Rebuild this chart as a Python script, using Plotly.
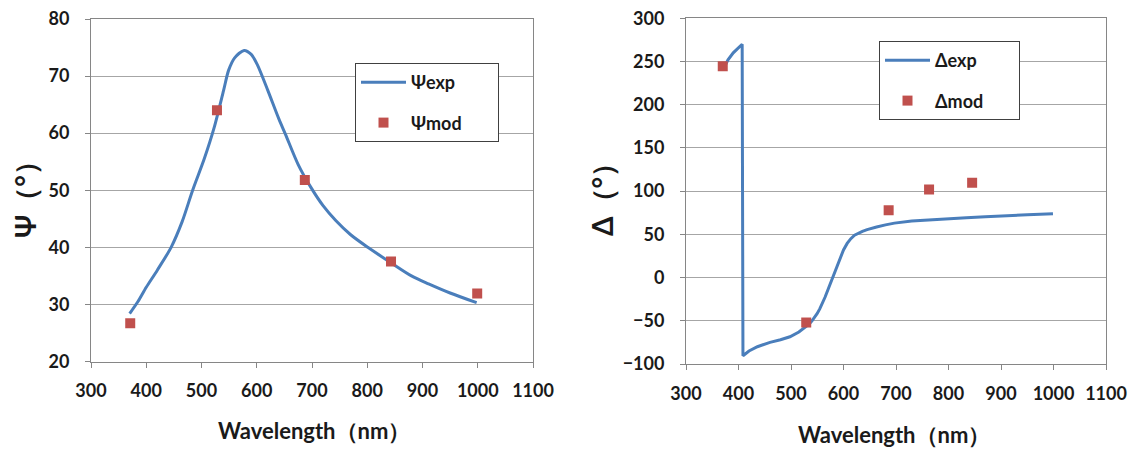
import plotly.graph_objects as go

# ---- data ----
psi_exp_wl = [370, 385, 400, 420, 445, 465, 484, 505, 523, 540, 549, 560, 577, 590, 601, 620, 640, 652,
              675, 698, 720, 743, 770, 801, 846, 880, 911, 950, 998]
psi_exp_val = [28.4, 30.5, 33.0, 36.0, 40.0, 44.5, 50.0, 55.5, 61.0, 67.5, 71.0, 73.2, 74.5, 73.8, 72.0, 67.5,
               62.5, 59.8, 54.5, 50.5, 47.3, 44.7, 42.2, 40.0, 37.1, 35.0, 33.6, 32.0, 30.3]
psi_mod_wl = [371, 528, 687, 843, 999]
psi_mod_val = [26.7, 64.0, 51.8, 37.5, 31.9]

delta_exp_wl = [371, 380, 390, 400, 407, 408.5, 420, 436, 460, 480, 498, 515, 529, 535, 540, 545, 550, 555, 560,
                565, 570, 575, 580, 585, 590, 595, 600, 607, 614, 621, 628, 636, 645, 654, 663, 680, 697, 730,
                766, 800, 834, 870, 903, 950, 999]
delta_exp_val = [241, 252, 260, 266, 270, -90.5, -85, -80, -75, -72, -68.5, -63, -57, -53.5, -50, -46, -41.5,
                 -36, -30, -22.5, -14.6, -6.8, 0.8, 9.5, 18, 25.5, 32, 39.5, 45, 49, 51.5, 53.5, 55.5, 57.2,
                 58.5, 61, 63, 65.5, 67, 68.2, 69.2, 70.3, 71.5, 72.7, 73.9]
delta_mod_wl = [370, 529, 686, 763, 845]
delta_mod_val = [244.6, -52, 77.8, 102, 109.6]

x_ticks = [300, 400, 500, 600, 700, 800, 900, 1000, 1100]

BLUE = "#4A7EBB"
RED = "#C0504D"
FONT = "Lato"
W, H = 1136, 450
PAD = "\u00a0" * 7

fig = go.Figure()
fig.add_trace(go.Scatter(x=psi_exp_wl, y=psi_exp_val, mode="lines", name="Ψexp" + PAD,
                         line=dict(color=BLUE, width=3, shape="spline", smoothing=0.8),
                         xaxis="x", yaxis="y", legend="legend", legendgroup="a"))
fig.add_trace(go.Scatter(x=psi_mod_wl, y=psi_mod_val, mode="markers", name="Ψmod" + PAD,
                         marker=dict(color=RED, symbol="square", size=10),
                         xaxis="x", yaxis="y", legend="legend", legendgroup="b"))
fig.add_trace(go.Scatter(x=delta_exp_wl, y=delta_exp_val, mode="lines", name="Δexp" + PAD,
                         line=dict(color=BLUE, width=3),
                         xaxis="x2", yaxis="y2", legend="legend2", legendgroup="c"))
fig.add_trace(go.Scatter(x=delta_mod_wl, y=delta_mod_val, mode="markers", name="Δmod" + PAD,
                         marker=dict(color=RED, symbol="square", size=10),
                         xaxis="x2", yaxis="y2", legend="legend2", legendgroup="d"))

def px_x(p):
    return p / W

def px_y(p):
    return 1 - p / H

axis_common = dict(showline=True, linecolor="#868686", linewidth=1, mirror=True,
                   ticks="outside", ticklen=5, tickcolor="#868686",
                   tickfont=dict(family=FONT, size=18, color="#1a1a1a", weight="bold"),
                   zeroline=False, automargin=False)

fig.update_layout(
    width=W, height=H, margin=dict(l=0, r=0, t=0, b=0, autoexpand=False),
    paper_bgcolor="white", plot_bgcolor="white",
    font=dict(family=FONT, color="#1a1a1a"),
    xaxis=dict(domain=[px_x(91), px_x(533)], range=[300, 1100], tickvals=x_ticks,
               showgrid=False, anchor="y", ticklabelstandoff=8, **axis_common),
    yaxis=dict(domain=[px_y(361.5), px_y(19)], range=[20, 80], dtick=10,
               showgrid=True, gridcolor="#a6a6a6", gridwidth=1, anchor="x",
               ticklabelstandoff=12, **axis_common),
    xaxis2=dict(domain=[px_x(686), px_x(1106)], range=[300, 1100], tickvals=x_ticks,
                showgrid=False, anchor="y2", ticklabelstandoff=8, **axis_common),
    yaxis2=dict(domain=[px_y(364), px_y(18.3)], range=[-100, 300], dtick=50,
                showgrid=True, gridcolor="#a6a6a6", gridwidth=1, anchor="x2",
                ticklabelstandoff=12, **axis_common),
    legend=dict(x=px_x(355), y=px_y(63), xanchor="left", yanchor="top",
                bgcolor="white", bordercolor="#404040", borderwidth=1,
                font=dict(family=FONT, size=18, color="#1a1a1a", weight="bold"),
                tracegroupgap=14, itemwidth=45),
    legend2=dict(x=px_x(879), y=px_y(41), xanchor="left", yanchor="top",
                 bgcolor="white", bordercolor="#404040", borderwidth=1,
                 font=dict(family=FONT, size=18, color="#1a1a1a", weight="bold"),
                 tracegroupgap=14, itemwidth=45),
    showlegend=True,
)

annots = [
    dict(text="Wavelength（nm）", x=px_x(314), y=px_y(430), xanchor="center", yanchor="middle"),
    dict(text="Wavelength（nm）", x=px_x(894), y=px_y(434), xanchor="center", yanchor="middle"),
]
for a in annots:
    fig.add_annotation(xref="paper", yref="paper", showarrow=False,
                       font=dict(family=FONT, size=22, color="#1a1a1a", weight="bold"), **a)

for txt, xp in [("Ψ（°）", 25), ("Δ（°）", 602)]:
    fig.add_annotation(text=txt, xref="paper", yref="paper", x=px_x(xp), y=px_y(193),
                       xanchor="center", yanchor="middle", textangle=-90, showarrow=False,
                       font=dict(family=FONT, size=28, color="#1a1a1a", weight="bold"))

fig.write_html("out.html")
